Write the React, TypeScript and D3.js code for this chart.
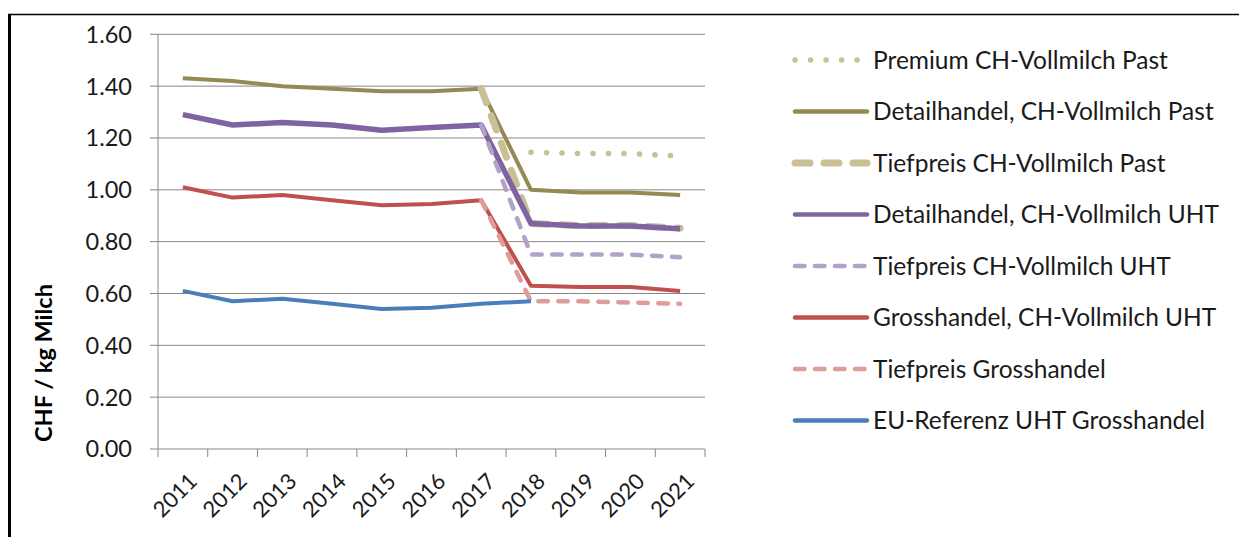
import React from 'react';
import * as d3 from 'd3';

const years = ['2011', '2012', '2013', '2014', '2015', '2016', '2017', '2018', '2019', '2020', '2021'];
const yTicks = [0, 0.2, 0.4, 0.6, 0.8, 1.0, 1.2, 1.4, 1.6];

const premiumPast = [null, null, null, null, null, null, null, 1.145, 1.14, 1.14, 1.13];
const detailPast = [1.43, 1.42, 1.4, 1.39, 1.38, 1.38, 1.39, 1.0, 0.99, 0.99, 0.98];
const tiefPast = [null, null, null, null, null, null, 1.39, 0.87, 0.862, 0.862, 0.852];
const detailUHT = [1.29, 1.25, 1.26, 1.25, 1.23, 1.24, 1.25, 0.87, 0.86, 0.86, 0.85];
const tiefUHT = [null, null, null, null, null, null, 1.25, 0.75, 0.75, 0.75, 0.74];
const grossUHT = [1.01, 0.97, 0.98, 0.96, 0.94, 0.945, 0.96, 0.63, 0.625, 0.625, 0.61];
const tiefGross = [null, null, null, null, null, null, 0.96, 0.57, 0.57, 0.565, 0.56];
const euRef = [0.61, 0.57, 0.58, 0.56, 0.54, 0.545, 0.56, 0.57, null, null, null];

type Series = {
  name: string;
  values: (number | null)[];
  color: string;
  width: number;
  dash?: string;
  cap?: string;
};

const series: Series[] = [
  { name: 'Premium CH-Vollmilch Past', values: premiumPast, color: '#C9C096', width: 5.5, dash: '0.1 15.4', cap: 'round' },
  { name: 'Detailhandel, CH-Vollmilch Past', values: detailPast, color: '#948A54', width: 4 },
  { name: 'Tiefpreis CH-Vollmilch Past', values: tiefPast, color: '#C9C096', width: 7, dash: '15 14', cap: 'round' },
  { name: 'Detailhandel, CH-Vollmilch UHT', values: detailUHT, color: '#8064A2', width: 5.5 },
  { name: 'Tiefpreis CH-Vollmilch UHT', values: tiefUHT, color: '#B3A2C7', width: 4.5, dash: '9.5 10.5', cap: 'round' },
  { name: 'Grosshandel, CH-Vollmilch UHT', values: grossUHT, color: '#C0504D', width: 4 },
  { name: 'Tiefpreis Grosshandel', values: tiefGross, color: '#DE9C9B', width: 4.5, dash: '9.5 10.5', cap: 'round' },
  { name: 'EU-Referenz UHT Grosshandel', values: euRef, color: '#4A7EBB', width: 4 },
];

const font = 'Lato, "Open Sans", sans-serif';

export default function App() {
  const left = 158;
  const right = 705;
  const top = 34.3;
  const bottom = 449;

  const x = d3.scaleBand().domain(years).range([left, right]).padding(0);
  const y = d3.scaleLinear().domain([0, 1.6]).range([bottom, top]);

  const cx = (i: number) => (x(years[i]) as number) + x.bandwidth() / 2;

  const line = d3
    .line<number | null>()
    .defined((d) => d !== null)
    .x((_, i) => cx(i))
    .y((d) => y(d as number));

  const legendX0 = 795;
  const legendX1 = 867;
  const legendY0 = 60;
  const legendStep = 51.5;

  return (
    <svg width={1239} height={537} style={{ position: 'absolute', left: 0, top: 0, background: '#fff' }}>
      {/* frame */}
      <line x1={8} x2={1239} y1={14.5} y2={14.5} stroke="#000" strokeWidth={1.5} />
      <line x1={9.5} x2={9.5} y1={14} y2={537} stroke="#000" strokeWidth={3} />

      {/* gridlines and y ticks */}
      {yTicks.map((t) => (
        <g key={t}>
          <line x1={left - 8} x2={right} y1={y(t)} y2={y(t)} stroke="#878787" strokeWidth={1} />
          <text
            x={132}
            y={y(t)}
            dy="0.36em"
            textAnchor="end"
            fontFamily={font}
            fontSize={23.5}
            fill="#1a1a1a"
          >
            {t.toFixed(2)}
          </text>
        </g>
      ))}
      <line x1={left} x2={left} y1={top} y2={bottom} stroke="#878787" strokeWidth={1} />

      {/* x ticks */}
      {[...years.map((yr) => x(yr) as number), right].map((px, i) => (
        <line key={i} x1={px} x2={px} y1={bottom} y2={bottom + 8} stroke="#878787" strokeWidth={1} />
      ))}
      {years.map((yr, i) => (
        <text
          key={yr}
          transform={`translate(${cx(i) + 10}, ${bottom + 28}) rotate(-45)`}
          textAnchor="end"
          dy="0.36em"
          fontFamily={font}
          fontSize={22}
          fill="#1a1a1a"
        >
          {yr}
        </text>
      ))}

      {/* axis title */}
      <text
        transform={`translate(44, 363) rotate(-90)`}
        textAnchor="middle"
        dy="0.36em"
        fontFamily={font}
        fontWeight="bold"
        fontSize={23.5}
        fill="#000"
      >
        CHF / kg Milch
      </text>

      {/* series */}
      {series.map((s) => (
        <path
          key={s.name}
          d={line(s.values) || ''}
          fill="none"
          stroke={s.color}
          strokeWidth={s.width}
          strokeDasharray={s.dash}
          strokeLinecap={(s.cap as any) || 'butt'}
          strokeLinejoin="round"
        />
      ))}

      {/* legend */}
      {series.map((s, i) => {
        const ly = legendY0 + i * legendStep;
        return (
          <g key={s.name}>
            <line
              x1={legendX0}
              x2={legendX1}
              y1={ly}
              y2={ly}
              stroke={s.color}
              strokeWidth={s.dash ? s.width : 4.5}
              strokeDasharray={s.dash}
              strokeLinecap="round"
            />
            <text x={873} y={ly} dy="0.36em" fontFamily={font} fontSize={24.5} fill="#1a1a1a">
              {s.name}
            </text>
          </g>
        );
      })}
    </svg>
  );
}
